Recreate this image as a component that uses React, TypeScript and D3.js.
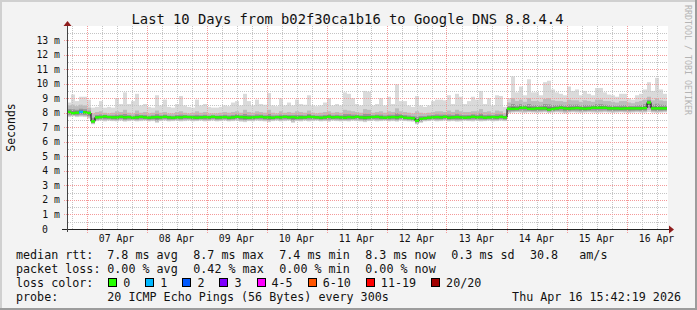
import React from "react";
import * as d3 from "d3";

const W = 697;
const H = 310;
const START = new Date(2026, 3, 6, 16, 12, 0);
const END = new Date(2026, 3, 16, 16, 12, 0);
const BIN_MINUTES = 96;

// median round-trip time per bin (ms)
const median = [
  8.05, 7.97, 8.0, 8.05, 8.03, 7.98, 7.4, 7.68, 7.7, 7.74,
  7.7, 7.68, 7.68, 7.72, 7.68, 7.7, 7.66, 7.68, 7.72, 7.68,
  7.66, 7.68, 7.7, 7.68, 7.72, 7.68, 7.66, 7.68, 7.68, 7.72,
  7.7, 7.68, 7.66, 7.68, 7.7, 7.68, 7.72, 7.68, 7.68, 7.7,
  7.66, 7.68, 7.72, 7.7, 7.68, 7.66, 7.68, 7.7, 7.72, 7.68,
  7.68, 7.66, 7.7, 7.68, 7.72, 7.68, 7.7, 7.66, 7.68, 7.68,
  7.72, 7.7, 7.68, 7.66, 7.68, 7.72, 7.68, 7.7, 7.68, 7.66,
  7.7, 7.68, 7.72, 7.68, 7.66, 7.68, 7.7, 7.72, 7.68, 7.66,
  7.68, 7.7, 7.68, 7.72, 7.66, 7.64, 7.62, 7.45, 7.58, 7.62,
  7.66, 7.68, 7.7, 7.68, 7.72, 7.66, 7.68, 7.7, 7.68, 7.66,
  7.68, 7.72, 7.68, 7.7, 7.66, 7.68, 7.7, 7.68, 7.72, 7.68,
  8.27, 8.27, 8.27, 8.34, 8.34, 8.27, 8.27, 8.3, 8.3, 8.3,
  8.22, 8.26, 8.3, 8.34, 8.3, 8.28, 8.3, 8.32, 8.3, 8.28,
  8.3, 8.34, 8.34, 8.34, 8.34, 8.3, 8.3, 8.3, 8.28, 8.3,
  8.3, 8.3, 8.3, 8.3, 8.32, 8.7, 8.3, 8.3, 8.3, 8.3,
];

// highest ping per bin (ms)
const maxRtt = [
  8.7, 9.25, 8.8, 9.1, 9.1, 8.9, 8.35, 8.4, 8.8, 8.35,
  8.4, 8.35, 9.0, 8.6, 9.4, 8.6, 8.8, 9.3, 8.5, 8.6,
  8.4, 8.35, 9.2, 8.5, 8.9, 8.4, 8.35, 8.6, 9.15, 8.5,
  8.4, 8.35, 8.9, 8.5, 8.6, 8.4, 8.35, 8.35, 8.4, 8.5,
  8.45, 8.7, 8.8, 8.5, 9.3, 8.8, 8.5, 8.9, 8.6, 8.55,
  9.35, 8.5, 8.45, 9.0, 8.5, 8.7, 8.5, 8.9, 8.6, 8.55,
  9.2, 8.5, 8.45, 8.5, 8.7, 9.0, 8.5, 8.6, 8.5, 9.4,
  9.3, 9.0, 8.6, 8.5, 9.5, 9.45, 8.5, 8.6, 9.0, 8.5,
  9.1, 8.6, 9.95, 8.8, 8.8, 8.5, 8.4, 9.15, 8.5, 8.4,
  8.5, 8.8, 8.9, 8.9, 8.85, 9.2, 8.6, 9.3, 9.1, 8.6,
  8.8, 9.1, 8.9, 9.5, 8.6, 9.0, 8.5, 9.2, 9.15, 8.4,
  9.0, 10.5, 9.4, 9.8, 9.2, 10.3, 9.4, 9.4, 9.2, 10.1,
  10.2, 9.6, 9.4, 9.3, 9.2, 9.8, 9.5, 9.6, 9.2, 9.5,
  9.3, 9.2, 9.7, 9.7, 9.4, 9.25, 9.2, 9.1, 9.3, 9.3,
  9.0, 8.9, 9.2, 9.3, 9.6, 10.1, 9.5, 10.4, 9.6, 9.3,
];

// upper edge of the dense smoke per bin (ms)
const upperRtt = [
  8.5, 8.55, 8.45, 8.55, 8.5, 8.35, 7.95, 8.05, 8.1, 8.0,
  7.95, 8.0, 8.1, 8.05, 8.2, 8.0, 7.95, 8.15, 8.0, 8.05,
  7.95, 8.0, 8.15, 8.0, 8.05, 7.95, 7.95, 8.05, 8.1, 8.0,
  7.95, 8.0, 8.1, 8.0, 8.05, 7.95, 7.95, 7.95, 8.0, 8.05,
  8.0, 8.05, 8.1, 8.0, 8.2, 8.05, 8.0, 8.1, 8.05, 8.0,
  8.2, 8.0, 7.95, 8.1, 8.0, 8.05, 8.0, 8.1, 8.05, 8.0,
  8.15, 8.0, 7.95, 8.0, 8.05, 8.1, 8.0, 8.05, 8.0, 8.2,
  8.15, 8.1, 8.05, 8.0, 8.25, 8.2, 8.0, 8.05, 8.1, 8.0,
  8.1, 8.05, 8.3, 8.1, 8.05, 8.0, 7.95, 8.1, 8.0, 7.95,
  8.0, 8.05, 8.1, 8.1, 8.05, 8.15, 8.05, 8.2, 8.1, 8.05,
  8.05, 8.1, 8.1, 8.25, 8.05, 8.1, 8.0, 8.15, 8.1, 7.95,
  8.7, 9.0, 8.8, 8.9, 8.75, 9.0, 8.8, 8.8, 8.75, 8.95,
  9.0, 8.85, 8.8, 8.8, 8.75, 8.9, 8.85, 8.85, 8.75, 8.85,
  8.8, 8.75, 8.9, 8.9, 8.8, 8.8, 8.75, 8.7, 8.8, 8.8,
  8.7, 8.65, 8.75, 8.8, 8.9, 9.1, 8.85, 9.0, 8.85, 8.8,
];

// lowest ping per bin (ms)
const minRtt = [
  7.7, 7.75, 7.7, 7.72, 7.7, 7.6, 7.2, 7.42, 7.45, 7.4,
  7.45, 7.42, 7.4, 7.45, 7.38, 7.42, 7.45, 7.4, 7.42, 7.45,
  7.4, 7.42, 7.3, 7.42, 7.45, 7.4, 7.42, 7.45, 7.4, 7.42,
  7.45, 7.4, 7.42, 7.45, 7.4, 7.42, 7.45, 7.4, 7.42, 7.45,
  7.4, 7.42, 7.45, 7.38, 7.35, 7.42, 7.4, 7.45, 7.42, 7.4,
  7.35, 7.42, 7.45, 7.4, 7.42, 7.45, 7.3, 7.42, 7.4, 7.45,
  7.4, 7.42, 7.45, 7.4, 7.42, 7.38, 7.45, 7.42, 7.4, 7.42,
  7.4, 7.45, 7.42, 7.4, 7.35, 7.42, 7.45, 7.4, 7.42, 7.45,
  7.4, 7.42, 7.38, 7.45, 7.42, 7.4, 7.38, 7.2, 7.3, 7.4,
  7.42, 7.45, 7.4, 7.42, 7.45, 7.4, 7.42, 7.38, 7.4, 7.45,
  7.42, 7.4, 7.45, 7.4, 7.42, 7.45, 7.4, 7.42, 7.45, 7.42,
  7.95, 8.0, 8.02, 8.0, 7.98, 8.02, 8.0, 7.98, 8.0, 8.02,
  7.98, 8.0, 8.02, 8.0, 7.95, 8.0, 8.02, 8.0, 7.98, 8.0,
  8.02, 8.0, 7.98, 8.0, 8.02, 8.0, 7.98, 8.0, 8.02, 8.0,
  7.98, 8.0, 8.02, 8.0, 8.0, 8.05, 8.0, 7.98, 8.0, 8.02,
];

// lost pings per bin (all others 0)
const lossBins = [{ bin: 3, loss: 1 }];

const yTickValues = [0, 1, 2, 3, 4, 5, 6, 7, 8, 9, 10, 11, 12, 13];
const yTickLabels = ["0", "1 m", "2 m", "3 m", "4 m", "5 m", "6 m", "7 m", "8 m", "9 m", "10 m", "11 m", "12 m", "13 m"];

const titleText = "Last 10 Days from b02f30ca1b16 to Google DNS 8.8.4.4";
const rttStats = ["7.8 ms avg", "8.7 ms max", "7.4 ms min", "8.3 ms now", "0.3 ms sd"];
const lossStats = ["0.00 % avg", "0.42 % max", "0.00 % min", "0.00 % now"];
const lossLegend = [
  { label: "0", color: "#26ff00" },
  { label: "1", color: "#00b8ff" },
  { label: "2", color: "#0059ff" },
  { label: "3", color: "#7e00ff" },
  { label: "4-5", color: "#ff00ff" },
  { label: "6-10", color: "#ff5500" },
  { label: "11-19", color: "#ff0000" },
  { label: "20/20", color: "#a10000" },
];
const lossColorFor = (n: number) => {
  if (n === 0) return lossLegend[0].color;
  if (n === 1) return lossLegend[1].color;
  if (n === 2) return lossLegend[2].color;
  if (n === 3) return lossLegend[3].color;
  if (n <= 5) return lossLegend[4].color;
  if (n <= 10) return lossLegend[5].color;
  if (n <= 19) return lossLegend[6].color;
  return lossLegend[7].color;
};

const MONO = "'DejaVu Sans Mono', monospace";
const MGRID = "#f49a9a";
const GRID = "#c4c4c4";

export default function App() {
  const x = d3.scaleTime().domain([START, END]).range([67, 667]);
  const y = d3.scaleLinear().domain([0, 14]).range([229, 25.5]);
  const plotTop = Math.round(y(14));
  const plotBottom = y(0);
  const axisY = Math.round(plotBottom);

  const binStart = (i: number) => d3.timeMinute.offset(START, i * BIN_MINUTES);

  const sixHours = d3.timeHour.every(6)!.range(START, END);
  const minorHours = sixHours.filter((d) => d.getHours() !== 0);
  const days = d3.timeDay.range(START, END);
  const noonLabels = sixHours.filter((d) => d.getHours() === 12);
  const fmt = d3.timeFormat("%d %b");

  const minorY = d3.range(0.5, 14, 1);

  const lossMap = new Map(lossBins.map((b) => [b.bin, b.loss]));

  const stepPts: [number, number][] = median.map((m, i) => [x(binStart(i)), y(m)]);
  stepPts.push([x(END), y(median[median.length - 1])]);
  const stepLine = d3.line().curve(d3.curveStepAfter)(stepPts) || "";

  const smoke = median.map((m, i) => {
    const x0 = x(binStart(i));
    const x1 = x(binStart(i + 1));
    const lo = minRtt[i];
    const hi = upperRtt[i];
    const mx = maxRtt[i];
    const bands = [
      { a: lo, b: mx, c: "#dadada" },
      { a: lo + 0.2 * (m - lo), b: hi, c: "#bcbcbc" },
      { a: m - 0.55 * (m - lo), b: m + 0.45 * (hi - m), c: "#979797" },
      { a: m - 0.25 * (m - lo), b: m + 0.18 * (hi - m), c: "#6a6a6a" },
    ];
    return { x0, x1, bands };
  });

  const legendXs: number[] = [];
  let lx = 108.3;
  lossLegend.forEach((it) => {
    legendXs.push(lx);
    lx += 30 + 7.05 * it.label.length;
  });

  const colX = (k: number) => 107.3 + k * 86;
  const r = (v: number) => Math.round(v);

  return (
    <svg width={W} height={H} style={{ position: "absolute", left: 0, top: 0, display: "block" }} fontFamily={MONO} shapeRendering="crispEdges">
      <defs>
        <pattern id="vGrid" x={0} y={0} width={1} height={2} patternUnits="userSpaceOnUse">
          <rect x={0} y={0} width={1} height={1} fill={GRID} />
        </pattern>
        <pattern id="hGrid" x={0} y={0} width={2} height={1} patternUnits="userSpaceOnUse">
          <rect x={0} y={0} width={1} height={1} fill={GRID} />
        </pattern>
        <pattern id="vMGrid" x={0} y={0} width={1} height={2} patternUnits="userSpaceOnUse">
          <rect x={0} y={0} width={1} height={1} fill={MGRID} />
        </pattern>
        <pattern id="hMGrid" x={0} y={0} width={2} height={1} patternUnits="userSpaceOnUse">
          <rect x={0} y={0} width={1} height={1} fill={MGRID} />
        </pattern>
      </defs>
      <rect x={0} y={0} width={W} height={H} fill="#f3f3f3" />
      <rect x={0} y={0} width={W} height={2} fill="#d0d0d0" />
      <rect x={0} y={0} width={2} height={H} fill="#d0d0d0" />
      <rect x={0} y={H - 2} width={W} height={2} fill="#9c9c9c" />
      <rect x={W - 2} y={0} width={2} height={H} fill="#9c9c9c" />

      <rect x={67} y={plotTop} width={601} height={axisY - plotTop} fill="#ffffff" />

      {/* smoke */}
      <g shapeRendering="auto">
        {smoke.map((s, i) => (
          <g key={"s" + i}>
            {s.bands.map((b, j) => (
              <rect key={j} x={s.x0} width={s.x1 - s.x0} y={y(b.b)} height={Math.max(0, y(b.a) - y(b.b))} fill={b.c} />
            ))}
          </g>
        ))}
      </g>

      {/* minor grid */}
      {minorY.map((v) => (
        <rect key={"my" + v} x={67} width={600} y={r(y(v))} height={1} fill="url(#hGrid)" />
      ))}
      {minorHours.map((d) => (
        <rect key={"mx" + d.getTime()} x={r(x(d))} width={1} y={plotTop} height={axisY - plotTop} fill="url(#vGrid)" />
      ))}
      {/* major grid */}
      {yTickValues.filter((v) => v > 0).map((v) => (
        <rect key={"Y" + v} x={63} width={604} y={r(y(v))} height={1} fill="url(#hMGrid)" />
      ))}
      {days.map((d) => (
        <rect key={"X" + d.getTime()} x={r(x(d))} width={1} y={plotTop} height={axisY - plotTop + 4} fill="url(#vMGrid)" />
      ))}

      {/* median */}
      <g shapeRendering="auto">
        <path d={stepLine} fill="none" stroke="#000000" strokeWidth={1} />
        {median.map((m, i) => (
          <line key={"g" + i} x1={x(binStart(i))} x2={x(binStart(i + 1))} y1={y(m)} y2={y(m)} stroke={lossColorFor(lossMap.get(i) || 0)} strokeWidth={2.4} />
        ))}
      </g>

      {/* axes */}
      <rect x={62} y={axisY} width={607} height={1} fill="#222" />
      <rect x={67} y={plotTop} width={1} height={axisY - plotTop + 3} fill="#444" />
      <g shapeRendering="auto">
        <path d={`M63.5,${plotTop} L71.5,${plotTop} L67.5,${plotTop - 5} Z`} fill="#8f1d1d" />
        <path d={`M669,${axisY - 3.5} L669,${axisY + 4.5} L674,${axisY + 0.5} Z`} fill="#8f1d1d" />
      </g>

      {/* y labels */}
      {yTickValues.map((v, i) => (
        <text key={"yl" + v} x={v === 0 ? 48 : 60} y={y(v)} dy="0.36em" textAnchor="end" fontSize={9.8} fill="#111">
          {yTickLabels[i]}
        </text>
      ))}
      {/* x labels */}
      {noonLabels.map((d) => (
        <text key={"xl" + d.getTime()} x={x(d)} y={242} textAnchor="middle" fontSize={9.8} fill="#111">
          {fmt(d)}
        </text>
      ))}

      <text x={347.5} y={24} textAnchor="middle" fontSize={13.8} fill="#111">{titleText}</text>
      <text transform={`translate(15,${(plotTop + plotBottom) / 2}) rotate(-90)`} textAnchor="middle" fontSize={11.5} fill="#111">Seconds</text>
      <text transform="translate(685,60) rotate(90)" textAnchor="middle" fontSize={8.3} fill="#b4b4b4">RRDTOOL / TOBI OETIKER</text>

      {/* legend */}
      <g fontSize={11.7} fill="#111">
        <text x={16} y={258.5}>median rtt:</text>
        {rttStats.map((s, k) => (
          <text key={"r" + k} x={colX(k)} y={258.5}>{s}</text>
        ))}
        <text x={530} y={258.5}>30.8</text>
        <text x={579.3} y={258.5}>am/s</text>

        <text x={16} y={272.5}>packet loss:</text>
        {lossStats.map((s, k) => (
          <text key={"l" + k} x={colX(k)} y={272.5}>{s}</text>
        ))}

        <text x={16} y={286.5}>loss color:</text>
        {lossLegend.map((it, k) => (
          <g key={"c" + k}>
            <rect x={r(legendXs[k])} y={278} width={8} height={8} fill={it.color} stroke="#000" strokeWidth={1} />
            <text x={legendXs[k] + 15} y={286.5}>{it.label}</text>
          </g>
        ))}

        <text x={16} y={300.5}>probe:</text>
        <text x={107.3} y={300.5}>20 ICMP Echo Pings (56 Bytes) every 300s</text>
        <text x={681} y={300.5} textAnchor="end">Thu Apr 16 15:42:19 2026</text>
      </g>
    </svg>
  );
}
